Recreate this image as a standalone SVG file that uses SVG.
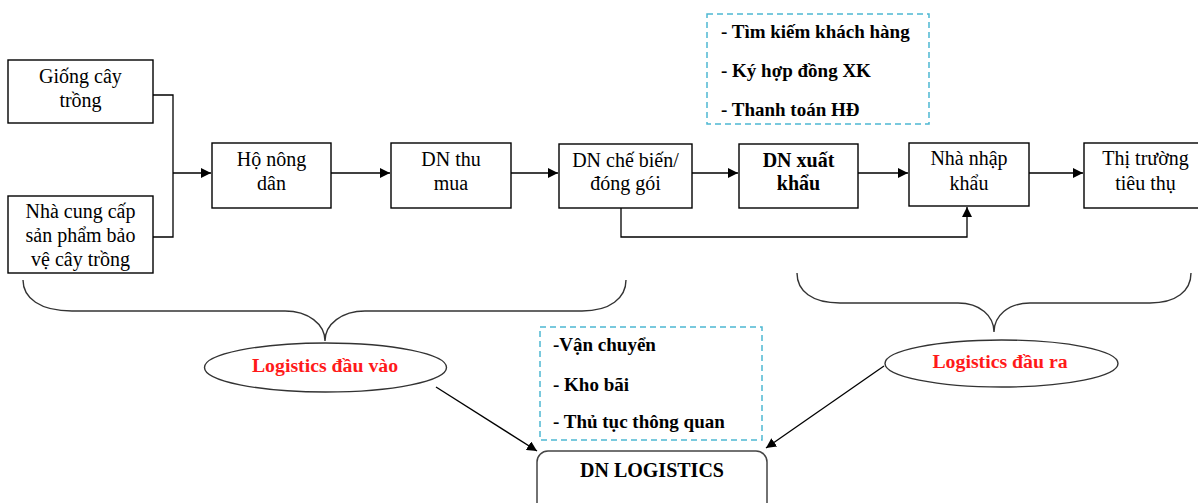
<svg xmlns="http://www.w3.org/2000/svg" width="1198" height="503" viewBox="0 0 1198 503">
  <style>
    .box { fill: #ffffff; stroke: #000000; stroke-width: 1.4; }
    .dash { fill: none; stroke: #4db8d2; stroke-width: 1.5; stroke-dasharray: 6 4; }
    .line { fill: none; stroke: #000000; stroke-width: 1.3; }
    .curve { fill: none; stroke: #333333; stroke-width: 1.4; }
    .ell { fill: #ffffff; stroke: #333333; stroke-width: 1.4; }
    .t { font-family: "Liberation Serif", "Times New Roman", serif; font-size: 20px; fill: #000000; text-anchor: middle; }
    .b { font-weight: bold; }
    .list { font-family: "Liberation Serif", "Times New Roman", serif; font-size: 19px; font-weight: bold; fill: #000000; }
    .red { font-family: "Liberation Serif", "Times New Roman", serif; font-size: 19.8px; font-weight: bold; fill: #ff1a1a; text-anchor: middle; }
  </style>
  <defs>
    <marker id="arrow" viewBox="0 0 10 10" refX="10" refY="5" markerWidth="10" markerHeight="10" markerUnits="userSpaceOnUse" orient="auto">
      <path d="M0,0 L10,5 L0,10 Z" fill="#000000"/>
    </marker>
  </defs>

  <rect width="1198" height="503" fill="#ffffff"/>

  <!-- connectors -->
  <g id="connectors">
    <path class="line" d="M153,95 H173 V237 H153"/>
    <path class="line" d="M173,173 H211" marker-end="url(#arrow)"/>
    <path class="line" d="M331,173 H390" marker-end="url(#arrow)"/>
    <path class="line" d="M511,173 H558" marker-end="url(#arrow)"/>
    <path class="line" d="M692,173 H738" marker-end="url(#arrow)"/>
    <path class="line" d="M858,173 H908" marker-end="url(#arrow)"/>
    <path class="line" d="M1029,173 H1083" marker-end="url(#arrow)"/>
    <path class="line" d="M621,208 V237 H967 V207" marker-end="url(#arrow)"/>
    <path class="line" d="M436,387 L537,451" marker-end="url(#arrow)"/>
    <path class="line" d="M884,366 L766,448" marker-end="url(#arrow)"/>
  </g>

  <!-- braces -->
  <g id="brace-in">
    <path class="curve" d="M23,280 C23,298 40,311 72,311 L285,311 C308,311 325,324 325,341 C325,324 342,311 365,311 L582,311 C610,311 626,298 626,280"/>
  </g>
  <g id="brace-out">
    <path class="curve" d="M797,273 C797,291 812,303 840,303 L958,303 C980,303 994,316 994,332 C994,316 1008,303 1030,303 L1150,303 C1176,303 1191,291 1191,273"/>
  </g>

  <!-- supply chain nodes -->
  <g id="giong-cay-trong">
    <rect class="box" x="8" y="60" width="145" height="63"/>
    <text class="t" x="80.5" y="83">Giống cây</text>
    <text class="t" x="80.5" y="107">trồng</text>
  </g>
  <g id="nha-cung-cap">
    <rect class="box" x="8" y="196" width="145" height="77"/>
    <text class="t" x="80.5" y="218">Nhà cung cấp</text>
    <text class="t" x="80.5" y="242">sản phẩm bảo</text>
    <text class="t" x="80.5" y="266">vệ cây trồng</text>
  </g>
  <g id="ho-nong-dan">
    <rect class="box" x="212" y="143" width="119" height="65"/>
    <text class="t" x="271.5" y="166">Hộ nông</text>
    <text class="t" x="271.5" y="190">dân</text>
  </g>
  <g id="dn-thu-mua">
    <rect class="box" x="391" y="143" width="120" height="65"/>
    <text class="t" x="451" y="166">DN thu</text>
    <text class="t" x="451" y="190">mua</text>
  </g>
  <g id="dn-che-bien">
    <rect class="box" x="559" y="144" width="133" height="64"/>
    <text class="t" x="625.5" y="167">DN chế biến/</text>
    <text class="t" x="625.5" y="190">đóng gói</text>
  </g>
  <g id="dn-xuat-khau">
    <rect class="box" x="739" y="144" width="119" height="64"/>
    <text class="t b" x="798.5" y="167">DN xuất</text>
    <text class="t b" x="798.5" y="190">khẩu</text>
  </g>
  <g id="nha-nhap-khau">
    <rect class="box" x="909" y="143" width="120" height="63"/>
    <text class="t" x="969" y="165">Nhà nhập</text>
    <text class="t" x="969" y="190">khẩu</text>
  </g>
  <g id="thi-truong">
    <rect class="box" x="1084" y="143" width="120" height="65"/>
    <text class="t" x="1145.5" y="165">Thị trường</text>
    <text class="t" x="1145.5" y="190">tiêu thụ</text>
  </g>

  <!-- export activities -->
  <g id="hoat-dong-xk">
    <rect class="dash" x="707" y="14" width="222" height="110"/>
    <text class="list" x="721" y="38">- Tìm kiếm khách hàng</text>
    <text class="list" x="721" y="77">- Ký hợp đồng XK</text>
    <text class="list" x="721" y="116">- Thanh toán HĐ</text>
  </g>

  <!-- logistics services -->
  <g id="dich-vu-logistics">
    <rect class="dash" x="540" y="327" width="222" height="113"/>
    <text class="list" x="553" y="351">-Vận chuyển</text>
    <text class="list" x="553" y="391">- Kho bãi</text>
    <text class="list" x="553" y="428">- Thủ tục thông quan</text>
  </g>

  <!-- logistics ellipses -->
  <g id="logistics-dau-vao">
    <ellipse class="ell" cx="325.5" cy="367.5" rx="121" ry="24.5"/>
    <text class="red" x="325" y="372">Logistics đầu vào</text>
  </g>
  <g id="logistics-dau-ra">
    <ellipse class="ell" cx="1001.5" cy="363.5" rx="116.5" ry="23.5"/>
    <text class="red" x="1000" y="368">Logistics đầu ra</text>
  </g>

  <!-- logistics company -->
  <g id="dn-logistics">
    <rect x="537" y="451" width="230" height="70" rx="11" ry="11" fill="#ffffff" stroke="#444444" stroke-width="1.5"/>
    <text class="t b" x="652" y="477">DN LOGISTICS</text>
  </g>
</svg>
